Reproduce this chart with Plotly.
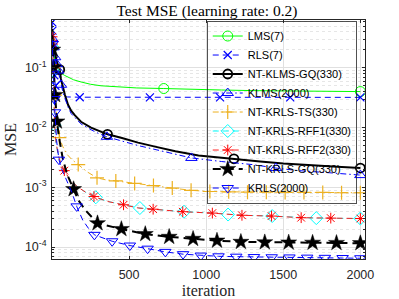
import plotly.graph_objects as go

# ---------------- data ----------------
lms_x = [1, 5, 10, 20, 30, 45, 58, 80, 100, 140, 188, 250, 318, 428, 550, 725, 900, 1100, 1300, 1500, 1750, 2000]
lms_y = [0.35, 0.25, 0.18, 0.13, 0.105, 0.09, 0.082, 0.075, 0.070, 0.063, 0.058, 0.053, 0.050, 0.048, 0.046,
         0.045, 0.0435, 0.0425, 0.0415, 0.041, 0.0405, 0.040]
lms_m = [725, 2000]

rls_x = [1, 3, 6, 10, 15, 22, 30, 50, 100, 180, 635, 1090, 1545, 2000]
rls_y = [0.58, 0.42, 0.25, 0.13, 0.075, 0.05, 0.04, 0.034, 0.0325, 0.0322, 0.032, 0.032, 0.032, 0.032]
rls_m = [1, 3, 6, 10, 15, 22, 180, 635, 1090, 1545, 2000]

klmsgq_x = [1, 5, 10, 20, 30, 40, 50, 58, 70, 84, 104, 125, 149, 188, 253, 300, 360, 454, 558, 668, 800,
            950, 1100, 1180, 1350, 1500, 1700, 1850, 2000]
klmsgq_y = [0.45, 0.35, 0.26, 0.17, 0.13, 0.105, 0.093, 0.065, 0.047, 0.035, 0.024, 0.019, 0.016, 0.0125,
            0.010, 0.0088, 0.0077, 0.0067, 0.0056, 0.0048, 0.0040, 0.0034, 0.0031, 0.0030, 0.0027, 0.0025,
            0.0023, 0.0022, 0.0021]
klmsgq_m = [50, 360, 1180, 2000]

klms_x = [1, 5, 10, 20, 30, 40, 50, 58, 70, 84, 104, 125, 149, 188, 253, 300, 356, 454, 558, 668, 800, 904,
          1100, 1300, 1452, 1600, 1800, 2000]
klms_y = [0.4, 0.3, 0.22, 0.15, 0.115, 0.09, 0.07, 0.052, 0.04, 0.031, 0.022, 0.017, 0.0145, 0.0115, 0.0092,
          0.008, 0.0070, 0.0059, 0.0050, 0.0043, 0.0036, 0.0031, 0.0027, 0.0024, 0.0021, 0.0019, 0.00175, 0.0016]
klms_m = [5, 10, 20, 30, 40, 58, 356, 904, 1452, 2000]

ts_x = [1, 5, 10, 20, 30, 40, 48, 70, 100, 130, 170, 230, 292, 350, 414, 536, 658, 780, 902, 1024, 1146,
        1268, 1390, 1512, 1634, 1756, 1878, 2000]
ts_y = [0.35, 0.2, 0.1, 0.035, 0.016, 0.009, 0.0068, 0.0048, 0.0035, 0.0029, 0.0024, 0.0018, 0.00144,
        0.00133, 0.00128, 0.00116, 0.00107, 0.00097, 0.00089, 0.00085, 0.00084, 0.00083, 0.00083, 0.00082,
        0.00082, 0.00082, 0.00081, 0.00081]
ts_m = [10, 20, 48, 170, 292, 414, 536, 658, 780, 902, 1024, 1146, 1268, 1390, 1512, 1634, 1756, 1878, 2000]

rff1_x = [1, 4, 8, 12, 17, 25, 40, 60, 84, 120, 170, 220, 284, 360, 467, 570, 656, 856, 1045, 1142, 1240,
          1428, 1629, 1714, 1817, 2000]
rff1_y = [0.32, 0.22, 0.09, 0.032, 0.011, 0.0058, 0.0034, 0.0024, 0.0018, 0.0013, 0.001, 0.00082, 0.00068,
          0.00058, 0.00051, 0.00045, 0.00043, 0.00039, 0.00037, 0.00035, 0.00034, 0.00033, 0.00031,
          0.000305, 0.000303, 0.0003]
rff1_m = [4, 8, 17, 284, 570, 856, 1142, 1428, 1714, 2000]

rff2_x = [1, 4, 8, 12, 17, 25, 40, 60, 80, 120, 170, 220, 272, 360, 464, 560, 656, 848, 1040, 1232, 1424,
          1616, 1808, 2000]
rff2_y = [0.33, 0.25, 0.1, 0.035, 0.012, 0.006, 0.0035, 0.0024, 0.0019, 0.0013, 0.001, 0.00082, 0.0007,
          0.00058, 0.00051, 0.00045, 0.00043, 0.00039, 0.00037, 0.00034, 0.00033, 0.00031, 0.000305, 0.0003]
rff2_m = [1, 4, 8, 80, 272, 464, 656, 848, 1040, 1232, 1424, 1616, 1808, 2000]

krlsgq_x = [1, 5, 10, 20, 32, 45, 70, 100, 140, 169, 214, 295, 450, 605, 760, 915, 1070, 1225, 1380, 1535,
            1690, 1845, 2000]
krlsgq_y = [0.35, 0.2, 0.1, 0.035, 0.0126, 0.007, 0.003, 0.0016, 0.00093, 0.00062, 0.00042, 0.00025, 0.0002,
            0.000165, 0.000148, 0.000137, 0.000128, 0.000122, 0.00012, 0.000119, 0.000118, 0.000117, 0.000116]
krlsgq_m = [5, 10, 20, 32, 140, 295, 450, 605, 760, 915, 1070, 1225, 1380, 1535, 1690, 1845, 2000]

krls_x = [1, 2, 8, 15, 19, 30, 45, 60, 84, 130, 160, 200, 240, 275, 390, 505, 620, 735, 850, 965, 1080,
          1195, 1310, 1425, 1540, 1655, 1770, 1885, 2000]
krls_y = [0.3, 0.25, 0.08, 0.03, 0.018, 0.006, 0.0029, 0.0021, 0.0015, 0.00081, 0.00048, 0.00028, 0.0002,
          0.00016, 0.000125, 0.000106, 0.000094, 0.000083, 0.000076, 0.000072, 0.00007, 0.000069, 0.000068,
          0.0000675, 0.000067, 0.0000665, 0.000066, 0.0000655, 0.000065]
krls_m = [2, 8, 15, 19, 45, 160, 275, 390, 505, 620, 735, 850, 965, 1080, 1195, 1310, 1425, 1540, 1655,
          1770, 1885, 2000]

names = ["LMS(7)", "RLS(7)", "NT-KLMS-GQ(330)", "KLMS(2000)", "NT-KRLS-TS(330)",
         "NT-KRLS-RFF1(330)", "NT-KRLS-RFF2(330)", "NT-KRLS-GQ(330)", "KRLS(2000)"]
x_ticks = [500, 1000, 1500, 2000]
y_ticks = [1e-4, 1e-3, 1e-2, 1e-1]
y_ticktext = ["10<sup>-4</sup>", "10<sup>-3</sup>", "10<sup>-2</sup>", "10<sup>-1</sup>"]

# ---------------- styles ----------------
series = [
    (lms_x, lms_y, lms_m, dict(color="#00ff00", width=1, dash="solid"), "circle-open", 10, 1, "#00ff00"),
    (rls_x, rls_y, rls_m, dict(color="#0000ff", width=1, dash="6px,4px"), "x-thin-open", 8, 1.2, "#0000ff"),
    (klmsgq_x, klmsgq_y, klmsgq_m, dict(color="#000000", width=2, dash="solid"), "circle-open", 9, 1.8, "#000000"),
    (klms_x, klms_y, klms_m, dict(color="#0000ff", width=1, dash="6px,3px,1.5px,3px"), "triangle-up-open", 10, 1, "#0000ff"),
    (ts_x, ts_y, ts_m, dict(color="#EDB120", width=1, dash="6px,3px,1.5px,3px"), "cross-thin-open", 10, 1.2, "#EDB120"),
    (rff1_x, rff1_y, rff1_m, dict(color="#00ffff", width=1, dash="6px,4px"), "diamond-open", 10, 1, "#00ffff"),
    (rff2_x, rff2_y, rff2_m, dict(color="#ff2020", width=1, dash="6px,4px"), "asterisk-open", 9, 1, "#ff0000"),
    (krlsgq_x, krlsgq_y, krlsgq_m, dict(color="#000000", width=2, dash="8px,5px"), "star", 12, 0.5, "#000000"),
    (krls_x, krls_y, krls_m, dict(color="#0000ff", width=1, dash="6px,4px"), "triangle-down-open", 10, 1, "#0000ff"),
]

fig = go.Figure()
for (xs, ys, ms, line, sym, msize, mlw, mcol), name in zip(series, names):
    mset = set(ms)
    sizes = [msize if x in mset else 0 for x in xs]
    opac = [1 if x in mset else 0 for x in xs]
    fig.add_trace(go.Scatter(
        x=xs, y=ys, mode="lines+markers", line=line, showlegend=False, hoverinfo="skip",
        marker=dict(symbol=sym, size=sizes, opacity=opac, color=mcol,
                    line=dict(color=mcol, width=mlw)),
    ))
    fig.add_trace(go.Scatter(
        x=[None], y=[None], mode="lines+markers", line=line, name=name,
        marker=dict(symbol=sym, size=msize, color=mcol, line=dict(color=mcol, width=mlw)),
    ))

axis_common = dict(showline=True, linecolor="#262626", linewidth=0.8, mirror="ticks",
                   ticks="inside", ticklen=3, tickcolor="#262626", automargin=False,
                   tickfont=dict(family="Liberation Sans, Arial, sans-serif", size=12.5, color="#262626"),
                   gridcolor="#e0e0e0", gridwidth=0.8, zeroline=False)

fig.update_layout(
    width=399, height=299,
    margin=dict(l=52, r=34, t=20, b=40, autoexpand=False),
    paper_bgcolor="white", plot_bgcolor="white",
    title=dict(text="Test MSE (learning rate: 0.2)", x=0.495, xref="paper",
               y=0.965, yref="container", yanchor="middle",
               font=dict(family="Liberation Serif, Times New Roman, serif", size=15.5, color="#000000")),
    xaxis=dict(range=[0, 2030], tickvals=x_ticks, showgrid=True, ticklabelstandoff=4,
               title=dict(text="iteration", standoff=0,
                          font=dict(family="Liberation Serif, serif", size=16, color="#262626")),
               **axis_common),
    yaxis=dict(type="log", range=[-4.2, -0.2], tickvals=y_ticks, ticktext=y_ticktext, showgrid=True,
               ticklabelstandoff=2,
               minor=dict(dtick="D1", showgrid=True, gridcolor="#e6e6e6", griddash="dot",
                          ticks="inside", ticklen=2, tickcolor="#262626"),
               title=dict(text="MSE", standoff=4,
                          font=dict(family="Liberation Serif, serif", size=16, color="#262626")),
               **axis_common),
    legend=dict(x=0.495, y=0.997, xanchor="left", yanchor="top", bgcolor="rgba(0,0,0,0)",
                bordercolor="#262626", borderwidth=0.8, tracegroupgap=0, itemwidth=30,
                font=dict(family="Liberation Sans, Arial, sans-serif", size=11, color="#000000")),
)

fig.write_html("out.html", config={"displayModeBar": False},
               post_script="document.body.style.margin='0px';")
